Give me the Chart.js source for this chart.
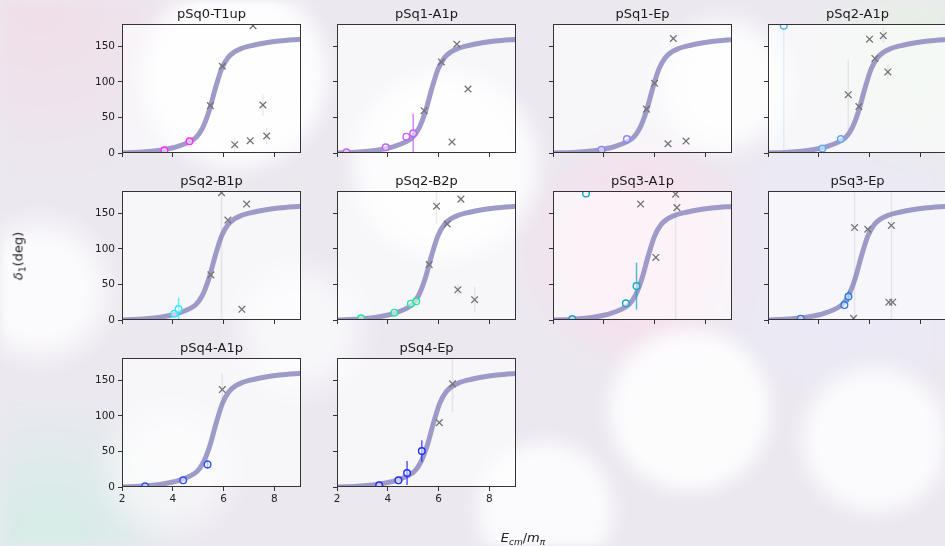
<!DOCTYPE html>
<html>
<head>
<meta charset="utf-8">
<script src="https://cdn.jsdelivr.net/npm/chart.js@4.4.1/dist/chart.umd.min.js"></script>
<style>
  html, body { margin: 0; padding: 0; width: 945px; height: 546px; overflow: hidden; }
  body { position: relative; background: #ebe8f0; font-family: "DejaVu Sans", sans-serif; color: #222; }
  #bg { position: absolute; left: 0; top: 0; filter: blur(5px); }
  .panel { position: absolute; }
  .axlabel { position: absolute; white-space: nowrap; font-size: 13px; font-family: "DejaVu Sans", sans-serif; color: #222; }
  .axlabel sub { font-size: 9px; vertical-align: -3px; }
  #ylab { left: 19px; top: 256px; transform: translate(-50%, -50%) rotate(-90deg); }
  #xlab { left: 523px; top: 538px; transform: translate(-50%, -50%); }
</style>
</head>
<body>
<canvas id="bg" width="945" height="546"></canvas>
<div id="ylab" class="axlabel"><i>δ</i><sub>1</sub>(deg)</div>
<div id="xlab" class="axlabel"><i>E</i><sub><i>cm</i></sub>/<i>m</i><sub><i>π</i></sub></div>
<script>
// ---- data -----------------------------------------------------------------
const panelTitles = ["pSq0-T1up", "pSq1-A1p", "pSq1-Ep", "pSq2-A1p", "pSq2-B1p",
                     "pSq2-B2p", "pSq3-A1p", "pSq3-Ep", "pSq4-A1p", "pSq4-Ep"];

const xTickValues = [2, 4, 6, 8];
const yTickValues = [0, 50, 100, 150];

// phase shift curve: delta_1 (deg) ...
const curveDelta    = [0, 1.0, 2.5, 5, 9, 16, 22, 35, 58, 90, 118, 134, 142, 146.5, 151.5, 155, 157.5, 160];
// ... and the energies E_cm/m_pi where each panel's curve takes those values
const pSq0T1upCurveE = [1.97, 2.67, 3.17, 3.67, 4.17, 4.67, 4.92, 5.17, 5.42, 5.67, 5.92, 6.17, 6.42, 6.67, 7.17, 7.67, 8.17, 9.07];
const pSq1A1pCurveE  = [2.00, 2.73, 3.23, 3.73, 4.23, 4.73, 4.98, 5.23, 5.48, 5.73, 5.98, 6.23, 6.48, 6.73, 7.23, 7.73, 8.23, 9.13];
const pSq1EpCurveE   = [2.00, 2.92, 3.42, 3.92, 4.42, 4.92, 5.17, 5.42, 5.67, 5.92, 6.17, 6.42, 6.67, 6.92, 7.42, 7.92, 8.42, 9.32];
const pSq2A1pCurveE  = [2.00, 2.81, 3.31, 3.81, 4.31, 4.81, 5.06, 5.31, 5.56, 5.81, 6.06, 6.31, 6.56, 6.81, 7.31, 7.81, 8.31, 9.21];
const pSq2B1pCurveE  = [1.97, 2.67, 3.17, 3.67, 4.17, 4.67, 4.92, 5.17, 5.42, 5.67, 5.92, 6.17, 6.42, 6.67, 7.17, 7.67, 8.17, 9.07];
const pSq2B2pCurveE  = [2.00, 2.72, 3.22, 3.72, 4.22, 4.72, 4.97, 5.22, 5.47, 5.72, 5.97, 6.22, 6.47, 6.72, 7.22, 7.72, 8.22, 9.12];
const pSq3A1pCurveE  = [2.00, 2.75, 3.25, 3.75, 4.25, 4.75, 5.00, 5.25, 5.50, 5.75, 6.00, 6.25, 6.50, 6.75, 7.25, 7.75, 8.25, 9.15];
const pSq3EpCurveE   = [1.98, 2.68, 3.18, 3.68, 4.18, 4.68, 4.93, 5.18, 5.43, 5.68, 5.93, 6.18, 6.43, 6.68, 7.18, 7.68, 8.18, 9.08];
const pSq4A1pCurveE  = [2.00, 2.71, 3.21, 3.71, 4.21, 4.71, 4.96, 5.21, 5.46, 5.71, 5.96, 6.21, 6.46, 6.71, 7.21, 7.71, 8.21, 9.11];
const pSq4EpCurveE   = [2.00, 2.80, 3.30, 3.80, 4.30, 4.80, 5.05, 5.30, 5.55, 5.80, 6.05, 6.30, 6.55, 6.80, 7.30, 7.80, 8.30, 9.20];

// levels used in the fit: [E, delta, error]
const pSq0T1upFit  = [[3.67, 3.8, 0], [4.66, 16.4, 0]];
const pSq1A1pFit   = [[2.37, 0.9, 0], [3.92, 8, 0], [4.73, 23, 0], [5.0, 27.7, 28]];
const pSq1EpFit    = [[3.91, 4.7, 0], [4.91, 19.6, 0]];
const pSq2A1pFit   = [[2.62, 179, 180], [4.14, 6.5, 0], [4.87, 19.6, 0]];
const pSq2B1pFit   = [[4.06, 8.9, 0], [4.23, 15.4, 16]];
const pSq2B2pFit   = [[2.95, 2.3, 0], [4.26, 10.3, 0], [4.91, 22.9, 0], [5.12, 26.2, 0]];
const pSq3A1pFit   = [[2.76, 1.4, 0], [3.3, 178, 0], [4.87, 23.4, 0], [5.29, 47.7, 33]];
const pSq3EpFit    = [[3.29, 1.9, 0], [5.01, 21, 0], [5.17, 33, 8]];
const pSq4A1pFit   = [[2.91, 0.9, 0], [4.41, 9.4, 0], [5.37, 31.8, 6]];
const pSq4EpFit    = [[3.66, 2.3, 0], [4.42, 9.4, 0], [4.76, 19.7, 17], [5.34, 50.6, 15]];

// remaining levels, not used in the fit: [E, delta, error]
const pSq0T1upOther = [[5.48, 66.6, 0], [5.95, 122, 0], [7.16, 179, 0], [6.44, 11.7, 10], [7.05, 17.3, 0], [7.55, 67.5, 15], [7.70, 23.9, 12]];
const pSq1A1pOther  = [[5.43, 59.5, 0], [6.11, 128, 0], [6.72, 153, 0], [7.16, 90, 0], [6.53, 15.5, 0]];
const pSq1EpOther   = [[5.68, 61.7, 0], [6.0, 98, 0], [6.74, 161, 0], [6.53, 13, 0], [7.24, 16.8, 0]];
const pSq2A1pOther  = [[5.16, 82, 50], [5.58, 65.4, 0], [6.0, 160, 0], [6.21, 133, 0], [6.54, 165, 10], [6.72, 114, 10]];
const pSq2B1pOther  = [[5.5, 63.5, 0], [5.92, 179, 180], [6.17, 140.6, 0], [6.91, 163, 0], [6.72, 15, 0]];
const pSq2B2pOther  = [[5.63, 78, 0], [5.92, 160, 25], [6.34, 135, 0], [6.88, 170, 8], [6.76, 42.5, 8], [7.42, 28.5, 18]];
const pSq3A1pOther  = [[5.45, 163, 0], [6.05, 88, 0], [6.83, 177, 180], [6.88, 158, 0]];
const pSq3EpOther   = [[5.41, 130, 180], [5.93, 127.6, 0], [6.86, 133, 180], [5.37, 2.3, 0], [6.76, 25, 0], [6.91, 25, 0]];
const pSq4A1pOther  = [[5.95, 137, 22]];
const pSq4EpOther   = [[6.03, 90.5, 0], [6.55, 145, 40]];

const curveESets = [pSq0T1upCurveE, pSq1A1pCurveE, pSq1EpCurveE, pSq2A1pCurveE, pSq2B1pCurveE, pSq2B2pCurveE, pSq3A1pCurveE, pSq3EpCurveE, pSq4A1pCurveE, pSq4EpCurveE];
const fitSets   = [pSq0T1upFit, pSq1A1pFit, pSq1EpFit, pSq2A1pFit, pSq2B1pFit, pSq2B2pFit, pSq3A1pFit, pSq3EpFit, pSq4A1pFit, pSq4EpFit];
const otherSets = [pSq0T1upOther, pSq1A1pOther, pSq1EpOther, pSq2A1pOther, pSq2B1pOther, pSq2B2pOther, pSq3A1pOther, pSq3EpOther, pSq4A1pOther, pSq4EpOther];

// ---- styling ----------------------------------------------------------------
const levelColors = ["#ff2cff", "#c462ff", "#8585ff", "#52aefc", "#2ee9fb",
                     "#1fe69e", "#18a6c6", "#2a7ae6", "#3050ff", "#1f2dff"];
const curveColor = "rgba(142,137,190,0.85)";
const crossColor = "#747474";

const PLOT_W = 179, PLOT_H = 129;
const colLeft = [122, 337, 553, 768];
const rowTop = [24, 191, 358];
const PAD_L = 45, PAD_T = 22, PAD_R = 12, PAD_B = 22;

// ---- soft bokeh backdrop ------------------------------------------------------
(function drawBackdrop() {
  const c = document.getElementById("bg").getContext("2d");
  c.fillStyle = "#ebe8f0";
  c.fillRect(0, 0, 945, 546);
  const blobs = [
    [40, 10, 180, "rgba(240,222,232,0.9)", 0.9],
    [925, 60, 130, "rgba(230,240,228,0.85)", 0.8],
    [50, 540, 150, "rgba(214,236,231,0.9)", 0.8],
    [640, 250, 130, "rgba(246,224,237,0.9)", 0.5],
    [850, 260, 150, "rgba(234,234,248,0.7)", 0.6],
    [235, 75, 105, "rgba(255,255,255,0.9)", 0.25],
    [445, 165, 105, "rgba(255,255,255,0.85)", 0.25],
    [725, 85, 80, "rgba(255,255,255,0.85)", 0.4],
    [40, 290, 85, "rgba(255,255,255,0.8)", 0.45],
    [300, 330, 80, "rgba(255,255,255,0.6)", 0.5],
    [690, 410, 92, "rgba(255,255,255,0.85)", 0.25],
    [875, 440, 85, "rgba(255,255,255,0.8)", 0.3],
    [545, 510, 80, "rgba(255,255,255,0.8)", 0.3],
    [170, 470, 80, "rgba(255,255,255,0.5)", 0.5]
  ];
  for (const [x, y, r, col, soft] of blobs) {
    const g = c.createRadialGradient(x, y, 0, x, y, r);
    g.addColorStop(0, col);
    g.addColorStop(1 - soft, col);
    g.addColorStop(1, col.replace(/[\d.]+\)$/, "0)"));
    c.fillStyle = g;
    c.beginPath(); c.arc(x, y, r, 0, Math.PI * 2); c.fill();
  }
})();

// ---- plugins -------------------------------------------------------------------
const panelDecor = {
  id: "panelDecor",
  beforeDraw(chart) {
    const { ctx, chartArea: a } = chart;
    ctx.save();
    ctx.fillStyle = "rgba(255,255,255,0.6)";
    ctx.fillRect(a.left, a.top, a.width, a.height);
    ctx.restore();
  },
  afterDraw(chart, args, opts) {
    const { ctx, chartArea: a } = chart;
    ctx.save();
    ctx.strokeStyle = "#333";
    ctx.lineWidth = 1;
    ctx.strokeRect(a.left + 0.5, a.top + 0.5, a.width - 1, a.height - 1);
    ctx.fillStyle = "#1a1a1a";
    ctx.font = '13px "DejaVu Sans", sans-serif';
    ctx.textAlign = "center";
    ctx.textBaseline = "alphabetic";
    ctx.fillText(opts.title, (a.left + a.right) / 2, a.top - 6);
    ctx.restore();
  }
};

const errorBars = {
  id: "errorBars",
  beforeDatasetDraw(chart, args) {
    const ds = chart.data.datasets[args.index];
    if (!ds.errors) return;
    const { ctx, chartArea: a, scales } = chart;
    ctx.save();
    ctx.beginPath();
    ctx.rect(a.left, a.top, a.width, a.height);
    ctx.clip();
    ctx.lineWidth = 1.5;
    ds.data.forEach((p, k) => {
      const e = ds.errors[k];
      if (!e) return;
      const px = scales.x.getPixelForValue(p.x);
      const y1 = scales.y.getPixelForValue(p.y - e);
      const y2 = scales.y.getPixelForValue(p.y + e);
      ctx.strokeStyle = (ds.errColor)(e);
      ctx.beginPath();
      ctx.moveTo(px, y1);
      ctx.lineTo(px, y2);
      ctx.stroke();
    });
    ctx.restore();
  }
};

function hexA(hex, a) {
  const n = parseInt(hex.slice(1), 16);
  return `rgba(${n >> 16},${(n >> 8) & 255},${n & 255},${a})`;
}

// ---- panels ---------------------------------------------------------------------
panelTitles.forEach((title, i) => {
  const col = i % 4, row = Math.floor(i / 4);
  const cv = document.createElement("canvas");
  const w = PAD_L + PLOT_W + PAD_R, h = PAD_T + PLOT_H + PAD_B;
  cv.width = w; cv.height = h;
  cv.className = "panel";
  cv.style.left = (colLeft[col] - PAD_L) + "px";
  cv.style.top = (rowTop[row] - PAD_T) + "px";
  cv.style.width = w + "px"; cv.style.height = h + "px";
  document.body.appendChild(cv);

  const color = levelColors[i];
  const fit = fitSets[i], other = otherSets[i], curveE = curveESets[i];

  new Chart(cv, {
    type: "scatter",
    data: {
      datasets: [
        {
          data: fit.map(r => ({ x: r[0], y: r[1] })),
          errors: fit.map(r => r[2]),
          errColor: e => hexA(color, e > 100 ? 0.15 : 0.75),
          pointStyle: "circle", pointRadius: 3.3, borderWidth: 1.4,
          borderColor: color, backgroundColor: "rgba(255,255,255,0.5)",
          clip: 0, order: 0
        },
        {
          data: other.map(r => ({ x: r[0], y: r[1] })),
          errors: other.map(r => r[2]),
          errColor: () => "rgba(120,120,120,0.14)",
          pointStyle: "crossRot", pointRadius: 4.7, borderWidth: 1.3,
          borderColor: crossColor, backgroundColor: crossColor,
          clip: 0, order: 1
        },
        {
          data: curveE.map((e, k) => ({ x: e, y: curveDelta[k] })),
          showLine: true, pointRadius: 0, borderWidth: 5,
          borderColor: curveColor, cubicInterpolationMode: "monotone",
          clip: 0, order: 2
        }
      ]
    },
    options: {
      responsive: false, animation: false, events: [],
      devicePixelRatio: 1,
      layout: { autoPadding: false, padding: { left: 0, top: PAD_T, right: PAD_R, bottom: 0 } },
      plugins: { legend: { display: false }, tooltip: { enabled: false }, title: { display: false },
                 panelDecor: { title } },
      scales: {
        x: {
          type: "linear", min: 2, max: 9.05,
          afterBuildTicks: s => { s.ticks = xTickValues.map(v => ({ value: v })); },
          afterFit: s => { s.height = PAD_B; },
          border: { display: false },
          grid: { drawOnChartArea: false, drawTicks: true, tickLength: 4, color: "#333", tickColor: "#333" },
          ticks: { display: row === 2, padding: 2, color: "#222", maxRotation: 0,
                   font: { family: "DejaVu Sans", size: 10.5 } }
        },
        y: {
          type: "linear", min: 0, max: 181.4,
          afterBuildTicks: s => { s.ticks = yTickValues.map(v => ({ value: v })); },
          afterFit: s => { s.width = PAD_L; },
          border: { display: false },
          grid: { drawOnChartArea: false, drawTicks: true, tickLength: 4, color: "#333", tickColor: "#333" },
          ticks: { display: col === 0, padding: 3, color: "#222",
                   font: { family: "DejaVu Sans", size: 10.5 } }
        }
      }
    },
    plugins: [panelDecor, errorBars]
  });
});
</script>
</body>
</html>
